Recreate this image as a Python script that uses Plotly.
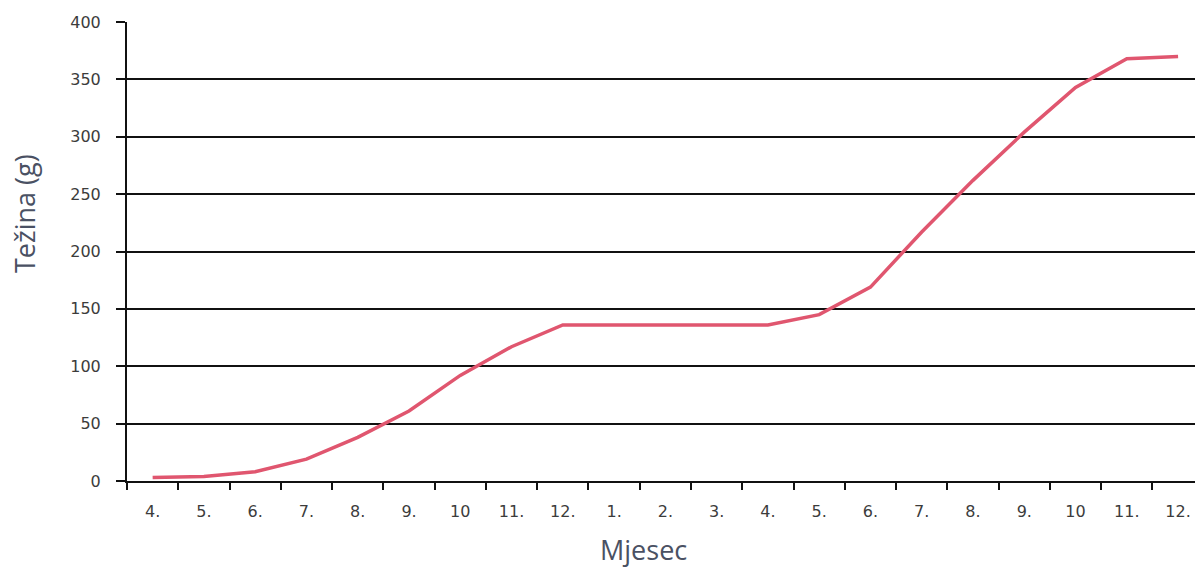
import plotly.graph_objects as go

# Months of observation (two consecutive years, April to December of the next)
months = ["4.", "5.", "6.", "7.", "8.", "9.", "10", "11.", "12.",
          "1.", "2.", "3.", "4.", "5.", "6.", "7.", "8.", "9.", "10", "11.", "12."]
# Body weight in grams
weight = [3, 4, 8, 19, 38, 61, 92, 117, 136,
          136, 136, 136, 136, 145, 169, 217, 262, 304, 343, 368, 370]
y_ticks = [0, 50, 100, 150, 200, 250, 300, 350, 400]

x_pos = list(range(len(months)))
boundaries = [i - 0.5 for i in range(len(months) + 1)]

tick_font = dict(family="DejaVu Sans", size=16, color="#3c3c3c")
title_font = dict(family="Open Sans", size=27, color="#4a5163")

fig = go.Figure()
fig.add_trace(go.Scatter(
    x=x_pos, y=weight, mode="lines",
    line=dict(color="#e0566f", width=3.5),
    hoverinfo="skip", showlegend=False,
))

fig.update_layout(
    width=1195, height=570,
    margin=dict(l=127, r=0, t=22, b=89),
    paper_bgcolor="white", plot_bgcolor="white",
    xaxis=dict(
        range=[-0.5, 20.33],
        tickmode="array", tickvals=x_pos, ticktext=months,
        ticks="", ticklabelstandoff=15,
        tickfont=tick_font,
        showgrid=False, zeroline=False,
        showline=True, linecolor="#111111", linewidth=2,
        minor=dict(tickmode="array", tickvals=boundaries, ticks="outside",
                   ticklen=7, tickwidth=2, tickcolor="#111111", showgrid=False),
    ),
    yaxis=dict(
        range=[0, 400],
        tickmode="array", tickvals=y_ticks,
        ticks="outside", ticklen=9, tickwidth=2, tickcolor="#111111",
        ticklabelstandoff=12,
        tickfont=tick_font,
        showgrid=True, gridcolor="#111111", gridwidth=2,
        zeroline=False,
        showline=True, linecolor="#111111", linewidth=2,
    ),
    annotations=[
        dict(text="Težina (g)", xref="paper", yref="paper",
             x=-127 / 1068 + 25 / 1068, y=(481 - 214) / 459,
             textangle=-90, showarrow=False, font=title_font,
             xanchor="center", yanchor="middle"),
        dict(text="Mjesec", xref="paper", yref="paper",
             x=(643 - 127) / 1068, y=-(549 - 481) / 459,
             showarrow=False, font=title_font,
             xanchor="center", yanchor="middle"),
    ],
)

fig.write_html("out.html")
